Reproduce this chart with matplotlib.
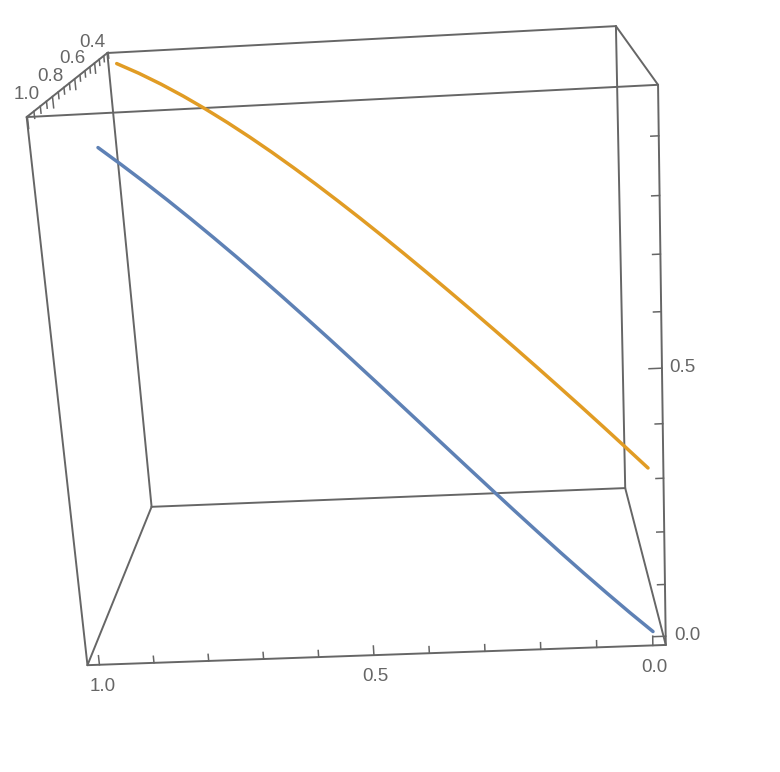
import numpy as np
import matplotlib
matplotlib.use('Agg')
import matplotlib.pyplot as plt

plt.rcParams['font.family'] = ['Liberation Sans', 'DejaVu Sans']

# data
blue_x = [1.0, 0.9548, 0.9099, 0.8654, 0.8213, 0.7776, 0.7341, 0.691, 0.6482, 0.6057, 0.5635, 0.5216, 0.48, 0.4386, 0.3974, 0.3565, 0.3159, 0.2755, 0.2354, 0.1955, 0.1559, 0.1165, 0.0774, 0.0386, 0.0]
blue_y = [0.5566, 0.5755, 0.5945, 0.6134, 0.6323, 0.6513, 0.6702, 0.6892, 0.7081, 0.7271, 0.746, 0.765, 0.7839, 0.8028, 0.8218, 0.8407, 0.8597, 0.8786, 0.8976, 0.9165, 0.9354, 0.9544, 0.9733, 0.9923, 1.0112]
blue_z = [0.8439, 0.8125, 0.7803, 0.7473, 0.7135, 0.6791, 0.644, 0.6084, 0.5723, 0.5358, 0.4991, 0.4621, 0.425, 0.3879, 0.3509, 0.3141, 0.2777, 0.2417, 0.2062, 0.1715, 0.1375, 0.1046, 0.0728, 0.0422, 0.0131]
orange_x = [1.0, 0.9511, 0.903, 0.8557, 0.8091, 0.7632, 0.7179, 0.6733, 0.6293, 0.5859, 0.5431, 0.5008, 0.4591, 0.418, 0.3773, 0.3372, 0.2977, 0.2586, 0.2201, 0.1821, 0.1447, 0.1077, 0.0713, 0.0354, 0.0]
orange_y = [0.2843, 0.3129, 0.3416, 0.3702, 0.3988, 0.4274, 0.456, 0.4847, 0.5133, 0.5419, 0.5705, 0.5991, 0.6278, 0.6564, 0.685, 0.7136, 0.7422, 0.7709, 0.7995, 0.8281, 0.8567, 0.8853, 0.914, 0.9426, 0.9712]
orange_z = [0.9647, 0.9467, 0.9267, 0.9049, 0.8816, 0.857, 0.8312, 0.8045, 0.7769, 0.7487, 0.7199, 0.6907, 0.6612, 0.6315, 0.6016, 0.5717, 0.5419, 0.512, 0.4823, 0.4527, 0.4233, 0.394, 0.3648, 0.3357, 0.3068]

x_ticks = [0.0, 0.1, 0.2, 0.3, 0.4, 0.5, 0.6, 0.7, 0.8, 0.9, 1.0]
z_ticks = [0.0, 0.1, 0.2, 0.3, 0.4, 0.5, 0.6, 0.7, 0.8, 0.9]
y_ticks = [0.25, 0.3, 0.35, 0.4, 0.45, 0.5, 0.55, 0.6, 0.65, 0.7, 0.75, 0.8, 0.85, 0.9, 0.95, 1.0]
x_major = [0.0, 0.5, 1.0]
z_major = [0.0, 0.5]
y_major = [0.4, 0.6, 0.8, 1.0]

x_range = (-0.023, 1.022)
y_range = (0.26, 1.005)
z_range = (-0.017, 0.984)

# box corners: (x, y, z) index -> pixel in the picture
corners = {
    (0, 1, 0): (666, 645), (1, 1, 0): (87, 665), (1, 1, 1): (27, 117), (0, 1, 1): (658, 85),
    (0, 0, 0): (625, 488), (1, 0, 0): (152, 507), (1, 0, 1): (107, 53), (0, 0, 1): (616, 26),
}
edges = [((0, 1, 0), (1, 1, 0)), ((1, 1, 0), (1, 1, 1)), ((1, 1, 1), (0, 1, 1)), ((0, 1, 1), (0, 1, 0)),
         ((0, 0, 0), (1, 0, 0)), ((1, 0, 0), (1, 0, 1)), ((1, 0, 1), (0, 0, 1)), ((0, 0, 1), (0, 0, 0)),
         ((0, 0, 0), (0, 1, 0)), ((1, 0, 0), (1, 1, 0)), ((1, 0, 1), (1, 1, 1)), ((0, 0, 1), (0, 1, 1))]

line_color = '#666666'
text_color = '#666666'


def fit_camera():
    rows = []
    for (i, j, k), (u, v) in corners.items():
        p = [x_range[i], y_range[j], z_range[k], 1.0]
        rows.append(p + [0, 0, 0, 0] + [-u * c for c in p])
        rows.append([0, 0, 0, 0] + p + [-v * c for c in p])
    return np.linalg.svd(np.array(rows))[2][-1].reshape(3, 4)


cam = fit_camera()


def project(x, y, z):
    x, y, z = np.asarray(x, float), np.asarray(y, float), np.asarray(z, float)
    w = cam[2, 0] * x + cam[2, 1] * y + cam[2, 2] * z + cam[2, 3]
    u = (cam[0, 0] * x + cam[0, 1] * y + cam[0, 2] * z + cam[0, 3]) / w
    v = (cam[1, 0] * x + cam[1, 1] * y + cam[1, 2] * z + cam[1, 3]) / w
    return u, v


def line3d(x, y, z, **kw):
    u, v = project(x, y, z)
    ax.plot(u, v, **kw)


fig = plt.figure(figsize=(7.8, 7.72), dpi=100)
ax = fig.add_axes([0, 0, 1, 1])
ax.set_xlim(0, 780)
ax.set_ylim(772, 0)
ax.axis('off')

for a, b in edges:
    line3d([x_range[a[0]], x_range[b[0]]], [y_range[a[1]], y_range[b[1]]], [z_range[a[2]], z_range[b[2]]],
           color=line_color, lw=1.4, solid_capstyle='round')

# ticks
for t in x_ticks:
    size = 0.018 if t in x_major else 0.013
    line3d([t, t], [y_range[1]] * 2, [z_range[0], z_range[0] + size], color=line_color, lw=1.1)
for t in z_ticks:
    size = 0.022 if t in z_major else 0.013
    line3d([x_range[0], x_range[0] + size], [y_range[1]] * 2, [t, t], color=line_color, lw=1.1)
for t in y_ticks:
    size = 0.02 if t in y_major else 0.012
    line3d([x_range[1]] * 2, [t, t], [z_range[1], z_range[1] - size], color=line_color, lw=1.1)

# curves
line3d(orange_x, orange_y, orange_z, color='#E19C24', lw=2.5, solid_capstyle='round', solid_joinstyle='round')
line3d(blue_x, blue_y, blue_z, color='#5E81B5', lw=2.5, solid_capstyle='round', solid_joinstyle='round')

# tick labels
label_kw = dict(color=text_color, fontsize=13.5, ha='center', va='center')
x_offsets = [(2, 22), (1, 21), (3, 22)]
for t, (dx, dy) in zip(x_major, x_offsets):
    u, v = project(t, y_range[1], z_range[0])
    ax.text(u + dx, v + dy, f'{t:.1f}', **label_kw)
z_offsets = [(22, -1), (20, -1)]
for t, (dx, dy) in zip(z_major, z_offsets):
    u, v = project(x_range[0], y_range[1], t)
    ax.text(u + dx, v + dy, f'{t:.1f}', **label_kw)
y_offsets = [(-2, -21), (-2, -20), (-2, -20), (-1, -22)]
for t, (dx, dy) in zip(y_major, y_offsets):
    u, v = project(x_range[1], t, z_range[1])
    ax.text(u + dx, v + dy, f'{t:.1f}', **label_kw)

fig.savefig('out.png', dpi=100)
